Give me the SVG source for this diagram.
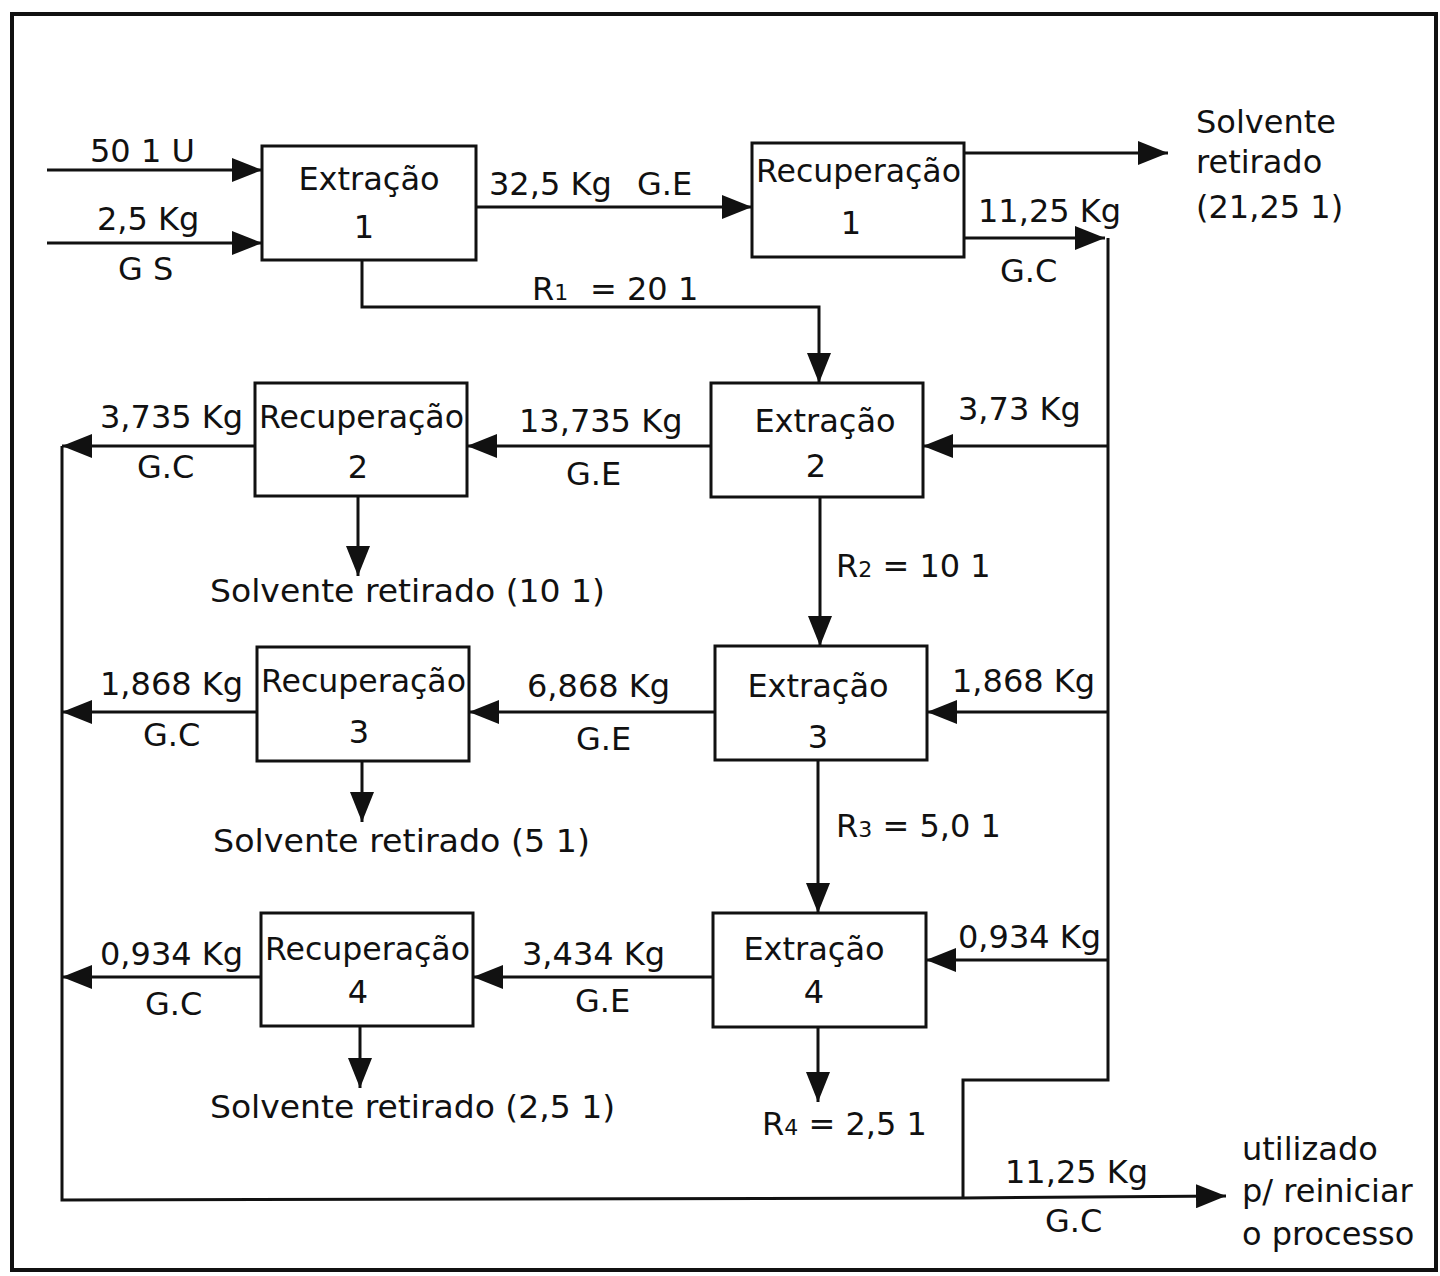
<svg xmlns="http://www.w3.org/2000/svg" width="1440" height="1276" viewBox="0 0 1440 1276">
<defs>
<marker id="ah" viewBox="0 0 30 24" refX="30" refY="12" markerWidth="30" markerHeight="24" markerUnits="userSpaceOnUse" orient="auto"><path d="M0,0 L30,12 L0,24 z" fill="#111"/></marker>
<style>
.box{fill:#fff;stroke:#111;stroke-width:3}
.ln{fill:none;stroke:#111;stroke-width:3}
.ar{fill:none;stroke:#111;stroke-width:3;marker-end:url(#ah)}
text{font-family:"DejaVu Sans","Liberation Sans",sans-serif;font-size:32px;fill:#111}
.c{text-anchor:middle}
.sub{font-size:22px}
</style>
</defs>
<rect x="0" y="0" width="1440" height="1276" fill="#fff"/>
<rect x="12" y="14" width="1424" height="1256" fill="none" stroke="#111" stroke-width="4"/>

<g id="connectors">
<line class="ar" x1="47" y1="170" x2="262" y2="170"/>
<line class="ar" x1="47" y1="243" x2="262" y2="243"/>
<line class="ar" x1="476" y1="207" x2="752" y2="207"/>
<polyline class="ar" points="362,260 362,307 819,307 819,383"/>
<line class="ar" x1="964" y1="153" x2="1168" y2="153"/>
<line class="ar" x1="964" y1="238" x2="1105" y2="238"/>
<polyline class="ln" points="1108,238 1108,1080 963,1080 963,1198"/>
<line class="ar" x1="1108" y1="446" x2="923" y2="446"/>
<line class="ar" x1="1108" y1="712" x2="927" y2="712"/>
<line class="ar" x1="1108" y1="960" x2="926" y2="960"/>
<line class="ar" x1="711" y1="446" x2="467" y2="446"/>
<line class="ar" x1="255" y1="446" x2="62" y2="446"/>
<line class="ar" x1="715" y1="712" x2="469" y2="712"/>
<line class="ar" x1="257" y1="712" x2="62" y2="712"/>
<line class="ar" x1="713" y1="977" x2="473" y2="977"/>
<line class="ar" x1="261" y1="977" x2="62" y2="977"/>
<line class="ar" x1="358" y1="496" x2="358" y2="576"/>
<line class="ar" x1="362" y1="761" x2="362" y2="822"/>
<line class="ar" x1="360" y1="1026" x2="360" y2="1088"/>
<line class="ar" x1="820" y1="497" x2="820" y2="646"/>
<line class="ar" x1="818" y1="760" x2="818" y2="913"/>
<line class="ar" x1="818" y1="1027" x2="818" y2="1102"/>
<polyline class="ln" points="62,446 62,1200 963,1198"/>
<line class="ar" x1="963" y1="1198" x2="1226" y2="1196"/>
</g>

<g id="ext1"><rect class="box" x="262" y="146" width="214" height="114"/><text class="c" x="369" y="190">Extração</text><text class="c" x="364" y="238">1</text></g>
<g id="rec1"><rect class="box" x="752" y="143" width="212" height="114"/><text x="756" y="182" textLength="205" lengthAdjust="spacingAndGlyphs">Recuperação</text><text class="c" x="851" y="234">1</text></g>
<g id="ext2"><rect class="box" x="711" y="383" width="212" height="114"/><text class="c" x="825" y="432">Extração</text><text class="c" x="816" y="477">2</text></g>
<g id="rec2"><rect class="box" x="255" y="383" width="212" height="113"/><text x="259" y="428" textLength="205" lengthAdjust="spacingAndGlyphs">Recuperação</text><text class="c" x="358" y="478">2</text></g>
<g id="ext3"><rect class="box" x="715" y="646" width="212" height="114"/><text class="c" x="818" y="697">Extração</text><text class="c" x="818" y="748">3</text></g>
<g id="rec3"><rect class="box" x="257" y="647" width="212" height="114"/><text x="261" y="692" textLength="205" lengthAdjust="spacingAndGlyphs">Recuperação</text><text class="c" x="359" y="743">3</text></g>
<g id="ext4"><rect class="box" x="713" y="913" width="213" height="114"/><text class="c" x="814" y="960">Extração</text><text class="c" x="814" y="1003">4</text></g>
<g id="rec4"><rect class="box" x="261" y="913" width="212" height="113"/><text x="265" y="960" textLength="205" lengthAdjust="spacingAndGlyphs">Recuperação</text><text class="c" x="358" y="1003">4</text></g>

<g id="labels">
<text x="90" y="162">50 1 U</text>
<text x="97" y="230">2,5 Kg</text>
<text x="118" y="280">G S</text>
<text x="489" y="195">32,5 Kg</text>
<text x="637" y="195">G.E</text>
<text x="532" y="300">R<tspan class="sub">1</tspan><tspan x="590">= 20 1</tspan></text>
<text x="1196" y="133">Solvente</text>
<text x="1196" y="173">retirado</text>
<text x="1196" y="218">(21,25 1)</text>
<text x="978" y="222">11,25 Kg</text>
<text x="1000" y="282">G.C</text>

<text x="100" y="428">3,735 Kg</text>
<text x="137" y="478">G.C</text>
<text x="519" y="432">13,735 Kg</text>
<text x="566" y="485">G.E</text>
<text x="958" y="420">3,73 Kg</text>
<text x="210" y="602" textLength="395" lengthAdjust="spacingAndGlyphs">Solvente retirado (10 1)</text>
<text x="836" y="577">R<tspan class="sub">2</tspan> = 10 1</text>

<text x="100" y="695">1,868 Kg</text>
<text x="143" y="746">G.C</text>
<text x="527" y="697">6,868 Kg</text>
<text x="576" y="750">G.E</text>
<text x="952" y="692">1,868 Kg</text>
<text x="213" y="852" textLength="377" lengthAdjust="spacingAndGlyphs">Solvente retirado (5 1)</text>
<text x="836" y="837">R<tspan class="sub">3</tspan> = 5,0 1</text>

<text x="100" y="965">0,934 Kg</text>
<text x="145" y="1015">G.C</text>
<text x="522" y="965">3,434 Kg</text>
<text x="575" y="1012">G.E</text>
<text x="958" y="948">0,934 Kg</text>
<text x="210" y="1118" textLength="405" lengthAdjust="spacingAndGlyphs">Solvente retirado (2,5 1)</text>
<text x="762" y="1135">R<tspan class="sub">4</tspan> = 2,5 1</text>

<text x="1005" y="1183">11,25 Kg</text>
<text x="1045" y="1232">G.C</text>
<text x="1242" y="1160">utilizado</text>
<text x="1242" y="1202">p/ reiniciar</text>
<text x="1242" y="1245">o processo</text>
</g>
</svg>
